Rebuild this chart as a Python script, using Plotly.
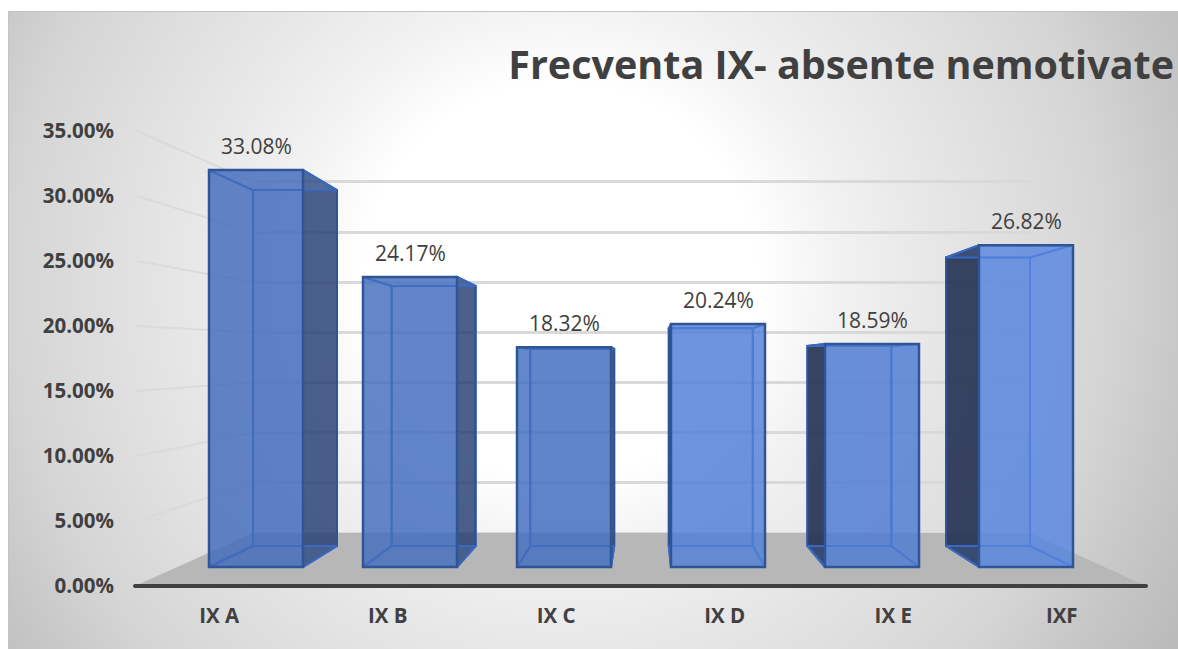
import base64
import plotly.graph_objects as go

# ---- data ----
categories = ["IX A", "IX B", "IX C", "IX D", "IX E", "IXF"]
values = [33.08, 24.17, 18.32, 20.24, 18.59, 26.82]
y_ticks = [0, 5, 10, 15, 20, 25, 30, 35]
y_tick_labels = ["0.00%", "5.00%", "10.00%", "15.00%", "20.00%", "25.00%", "30.00%", "35.00%"]
title_text = "Frecventa IX- absente nemotivate"

# ---- figure / perspective planes (pixels) ----
W, H = 1178, 649
TICK_X0, TICK_X1, TICK_Y0, TICK_PX = 135, 1146, 586, 13.0     # front axis plane
FR_C0, FR_DX, FR_Y0, FR_PX, FR_W = 256, 154.0, 567, 12.0, 94  # front faces of the bars
BK_C0, BK_DX, BK_Y0, BK_PX, BK_W = 295, 138.6, 546, 10.76, 84 # back faces of the bars
WALL_X0, WALL_X1, WALL_Y0, WALL_PX = 253, 1030, 533, 10.03    # back wall

TXT = "#404040"
EDGE = "#2f5597"
INNER = "#3a69c2"
front_fill = ["rgba(66,108,188,.78)", "rgba(68,110,190,.78)", "rgba(68,110,192,.78)",
              "rgba(84,130,216,.78)", "rgba(80,126,212,.78)", "rgba(88,136,224,.78)"]
back_fill = "rgba(68,114,196,.30)"
face_fill = "rgba(68,114,196,.22)"
dark_right = "rgba(36,60,108,.76)"
dark_left = "rgba(35,48,78,.88)"


def back_x(px):
    return (px - BK_C0) / BK_DX


def back_y(py):
    return (BK_Y0 - py) / BK_PX


def full_axes(c0, dx, y0, ypx):
    """Ranges that make an axis span the whole figure at the given pixel scale."""
    return dict(range=[(0 - c0) / dx, (W - c0) / dx], domain=[0, 1], visible=False), \
           dict(range=[(y0 - H) / ypx, y0 / ypx], domain=[0, 1], visible=False)


fig = go.Figure()


def quad(xs, ys, fill, line, width=2):
    fig.add_trace(go.Scatter(
        x=[back_x(p) for p in xs] + [back_x(xs[0])],
        y=[back_y(p) for p in ys] + [back_y(ys[0])],
        mode="lines", fill="toself", fillcolor=fill,
        line=dict(color=line, width=width), xaxis="x3", yaxis="y3",
        hoverinfo="skip", showlegend=False))


# back wall gridlines carry the real axis grid (subplot 1)
fig.add_trace(go.Scatter(x=[0, 1], y=[0, 35], mode="none", xaxis="x", yaxis="y",
                         hoverinfo="skip", showlegend=False))

# floor, the lines of the left wall and the axis line (subplot 2)
fx = [TICK_X0, WALL_X0, WALL_X1, TICK_X1, TICK_X0]
fy = [TICK_Y0, WALL_Y0, WALL_Y0, TICK_Y0, TICK_Y0]
for t in y_ticks[1:]:
    fig.add_trace(go.Scatter(
        x=[back_x(TICK_X0 + 2), back_x(WALL_X0)],
        y=[back_y(TICK_Y0 - TICK_PX * t), back_y(WALL_Y0 - WALL_PX * t)],
        mode="lines", line=dict(color="rgba(217,217,217,.9)", width=2),
        xaxis="x2", yaxis="y2", hoverinfo="skip", showlegend=False))
fig.add_trace(go.Scatter(
    x=[back_x(p) for p in fx], y=[back_y(p) for p in fy], mode="lines", fill="toself",
    fillcolor="#b7b7b7", line=dict(width=0), xaxis="x2", yaxis="y2",
    hoverinfo="skip", showlegend=False))
fig.add_trace(go.Scatter(
    x=[back_x(TICK_X0), back_x(TICK_X1)], y=[back_y(TICK_Y0), back_y(TICK_Y0)],
    mode="lines+markers", line=dict(color=TXT, width=4),
    marker=dict(color=TXT, size=4, line=dict(width=0)), cliponaxis=False,
    xaxis="x2", yaxis="y2", hoverinfo="skip", showlegend=False))

# back faces of the bars (subplot 3)
fig.add_trace(go.Bar(
    x=list(range(len(values))), y=values, width=BK_W / BK_DX, xaxis="x3", yaxis="y3",
    marker=dict(color=back_fill, line=dict(color=INNER, width=2)),
    hoverinfo="skip", showlegend=False))

# side, top and bottom faces of the bars, projected between the two planes
for k, v in enumerate(values):
    fc, bc = FR_C0 + FR_DX * k, BK_C0 + BK_DX * k
    fl, fr = fc - FR_W / 2, fc + FR_W / 2
    bl, br = bc - BK_W / 2, bc + BK_W / 2
    ft, bt = FR_Y0 - FR_PX * v, BK_Y0 - BK_PX * v
    quad([fl, bl, bl, fl], [ft, bt, BK_Y0, FR_Y0],
         dark_left if bl < fl else face_fill, EDGE if bl < fl else INNER)
    quad([fr, br, br, fr], [ft, bt, BK_Y0, FR_Y0],
         dark_right if br > fr else face_fill, EDGE if br > fr else INNER)
    quad([fl, fr, br, bl], [ft, ft, bt, bt], face_fill, INNER)
    quad([fl, fr, br, bl], [FR_Y0, FR_Y0, BK_Y0, BK_Y0], face_fill, INNER)

# front faces of the bars (subplot 4)
fig.add_trace(go.Bar(
    x=categories, y=values, width=FR_W / FR_DX, xaxis="x4", yaxis="y4",
    marker=dict(color=front_fill, line=dict(color=EDGE, width=2.5)),
    hovertemplate="%{x}: %{y:.2f}%<extra></extra>", showlegend=False))

# axes with the tick labels (subplot 5)
fig.add_trace(go.Scatter(x=categories, y=[0] * len(categories), mode="none",
                         xaxis="x5", yaxis="y5", hoverinfo="skip", showlegend=False))

annotations = [
    dict(x=c, y=v, xref="x4", yref="y4", text=f"{v:.2f}%", showarrow=False,
         yanchor="middle", xanchor="center", yshift=24,
         font=dict(family="Open Sans", size=21, color=TXT))
    for c, v in zip(categories, values)
]

svg = f"""<svg xmlns="http://www.w3.org/2000/svg" width="{W}" height="{H}" viewBox="0 0 {W} {H}">
<defs><radialGradient id="g" gradientUnits="userSpaceOnUse" cx="560" cy="280" r="730">
<stop offset="0" stop-color="#ffffff"/><stop offset="0.27" stop-color="#ffffff"/>
<stop offset="0.38" stop-color="#f2f2f2"/><stop offset="0.5" stop-color="#e8e8e8"/>
<stop offset="0.75" stop-color="#d5d5d5"/><stop offset="0.85" stop-color="#c8c8c8"/>
<stop offset="1" stop-color="#b8b8b8"/></radialGradient></defs>
<rect width="{W}" height="{H}" fill="#ffffff"/>
<rect x="8" y="11" width="{W - 8}" height="{H - 11}" fill="url(#g)"/>
<rect x="8" y="11" width="{W - 8}" height="1" fill="#c4c4c4"/>
<rect x="8" y="11" width="1" height="{H - 11}" fill="#c4c4c4"/>
</svg>"""
bg_uri = "data:image/svg+xml;base64," + base64.b64encode(svg.encode()).decode()

x2, y2 = full_axes(BK_C0, BK_DX, BK_Y0, BK_PX)
x3, y3 = full_axes(BK_C0, BK_DX, BK_Y0, BK_PX)
x4, y4 = full_axes(FR_C0, FR_DX, FR_Y0, FR_PX)
x4.update(type="category", categoryorder="array", categoryarray=categories)

tick_font = dict(family="Open Sans", size=20.5, color=TXT, weight="bold")

# the wall axis runs a little past 0 and 35 so that no gridline falls on an axis edge
wall_lo, wall_hi = -1, 36
tick_hi = 35 + 6 / TICK_PX

fig.update_layout(
    width=W, height=H, autosize=False, margin=dict(l=0, r=0, t=0, b=0, pad=0, autoexpand=False),
    paper_bgcolor="rgba(0,0,0,0)", plot_bgcolor="rgba(0,0,0,0)", barmode="overlay",
    font=dict(family="Open Sans", color=TXT),
    title=dict(text=title_text, x=1174 / W, xanchor="right", y=1 - 65 / H, yanchor="middle",
               xref="container", yref="container",
               font=dict(family="Open Sans", size=39.5, color=TXT, weight="bold")),
    images=[dict(source=bg_uri, xref="paper", yref="paper", x=0, y=1, sizex=1, sizey=1,
                 xanchor="left", yanchor="top", sizing="stretch", layer="below")],
    annotations=annotations,
    xaxis=dict(domain=[WALL_X0 / W, WALL_X1 / W], range=[0, 1], visible=True, showgrid=False,
               showticklabels=False, ticks="", zeroline=False, showline=False),
    yaxis=dict(domain=[(H - WALL_Y0 + wall_lo * WALL_PX) / H, (H - WALL_Y0 + wall_hi * WALL_PX) / H],
               range=[wall_lo, wall_hi],
               tickvals=y_ticks, showticklabels=False, ticks="", showgrid=True,
               gridcolor="#d9d9d9", gridwidth=2.5, zeroline=False, showline=False),
    xaxis2=dict(**x2, anchor="y2"), yaxis2=dict(**y2, anchor="x2"),
    xaxis3=dict(**x3, anchor="y3"), yaxis3=dict(**y3, anchor="x3"),
    xaxis4=dict(**x4, anchor="y4"), yaxis4=dict(**y4, anchor="x4"),
    xaxis5=dict(domain=[TICK_X0 / W, TICK_X1 / W], anchor="y5", type="category",
                categoryorder="array", categoryarray=categories, range=[-0.5, 5.5],
                showline=False, ticks="", showgrid=False,
                zeroline=False, tickfont=tick_font, ticklabelstandoff=15),
    yaxis5=dict(domain=[(H - TICK_Y0) / H, (H - TICK_Y0 + tick_hi * TICK_PX) / H],
                anchor="x5", range=[0, tick_hi],
                tickvals=y_ticks, ticktext=y_tick_labels,
                showgrid=False, zeroline=False, showline=False, ticks="",
                tickfont=tick_font, ticklabelstandoff=20),
)

fig.write_html("out.html", post_script="document.body.style.margin='0';",
               config={"displayModeBar": False})
